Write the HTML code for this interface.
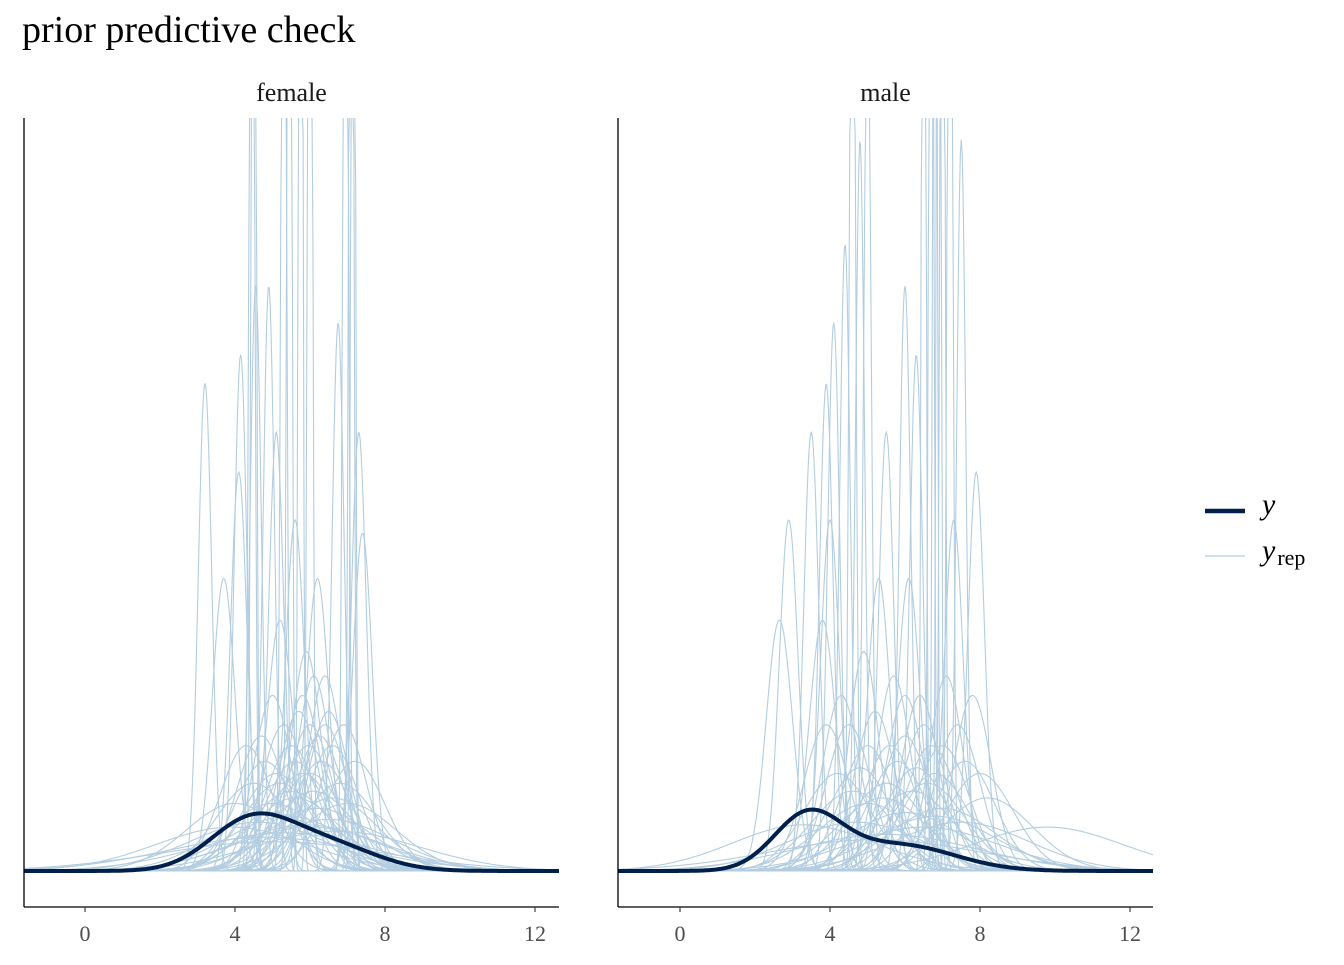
<!DOCTYPE html>
<html><head><meta charset="utf-8"><style>
body{margin:0;background:#fff}
svg text{font-family:"Liberation Serif",serif}
</style></head><body>
<svg id="c" width="1344" height="960">
<text x="22" y="42" font-size="38" fill="#000">prior predictive check</text>
</svg>
<script>
const tickVals=[0,4,8,12];
const panelNames=["female","male"];
const femaleRep=[[3.2,0.18],[3.7,0.30],[4.15,0.17],[4.55,0.15],[4.9,0.15],[6.75,0.16],[7.3,0.2],[7.4,0.26],[4.45,0.07],[4.5,0.06],[5.3,0.07],[5.45,0.06],[5.75,0.05],[6.0,0.06],[6.95,0.07],[7.1,0.06],[7.15,0.05],[4.1,0.22],[5.1,0.2],[5.6,0.25],[5.2,0.35],[6.2,0.3],[5.9,0.4],[6.4,0.45],[5.0,0.5],[6.0,0.6],[5.5,0.7],[6.3,0.8],[4.8,0.8],[5.8,0.9],[6.6,0.7],[5.2,1.0],[6.1,1.1],[4.5,1.0],[5.6,1.2],[6.8,1.0],[5.0,1.3],[6.2,1.4],[5.4,1.6],[4.6,1.8],[6.0,2.0],[5.3,2.3],[4.8,2.6],[6.5,1.7],[7.0,1.3],[5.7,0.55],[6.4,0.6],[4.9,1.5],[5.9,1.9],[6.7,2.2],[6.1,0.45],[5.8,0.5],[6.5,0.55],[5.3,0.6],[4.7,0.65],[6.9,0.6],[5.95,0.7],[6.25,0.65],[5.6,0.8],[4.3,0.7],[6.0,0.9],[5.1,0.9],[7.2,0.8],[5.5,1.1],[6.6,1.2],[4.0,1.3],[3.9,2.0],[5.0,3.0]];
const maleRep=[[2.9,0.25],[2.65,0.35],[3.5,0.2],[3.9,0.18],[4.1,0.16],[4.4,0.14],[4.8,0.12],[5.0,0.1],[6.0,0.15],[6.3,0.17],[7.5,0.12],[7.9,0.22],[4.0,0.25],[4.6,0.08],[6.5,0.05],[6.7,0.06],[6.8,0.05],[6.9,0.05],[7.0,0.06],[7.2,0.07],[5.5,0.2],[5.3,0.3],[6.1,0.3],[7.3,0.25],[3.8,0.35],[4.5,0.6],[5.0,0.7],[5.8,0.8],[6.5,0.6],[7.0,0.7],[4.2,0.9],[5.5,1.0],[6.2,1.1],[6.8,0.9],[7.6,0.8],[5.0,1.3],[6.0,1.5],[7.0,1.4],[4.7,1.8],[6.5,2.0],[5.5,2.4],[8.2,1.2],[9.8,2.0],[5.2,2.8],[7.5,1.8],[6.0,0.5],[4.6,1.1],[8.0,0.9],[6.8,1.6],[3.3,1.9],[4.9,0.4],[5.7,0.45],[6.4,0.5],[7.1,0.45],[4.3,0.5],[5.2,0.55],[6.0,0.65],[6.7,0.7],[7.4,0.6],[4.8,0.85],[5.6,0.7],[6.3,0.85],[3.9,0.6],[7.8,0.5],[5.4,1.2],[6.6,1.0]];
const femaleObs=[[4.4,1.1,0.6],[6.4,1.3,0.4]];
const maleObs=[[3.4,0.9,0.55],[5.8,1.5,0.45]];

const NS="http://www.w3.org/2000/svg";
const svg=document.getElementById('c');
function mk(t,a,p){const e=document.createElementNS(NS,t);for(const k in a)e.setAttribute(k,a[k]);(p||svg).appendChild(e);return e;}
const panels=[{left:24,right:559,x0:85,rep:femaleRep,obs:femaleObs},{left:618,right:1153,x0:680,rep:maleRep,obs:maleObs}];
const topY=118,base=871,axisY=907,pxU=37.5,pxD=220;
function pdf(x,m,s){return Math.exp(-0.5*((x-m)/s)**2)/(s*Math.sqrt(2*Math.PI));}
const defs=mk('defs',{});
panels.forEach((p,i)=>{
  const xs=v=>p.x0+pxU*v, ys=d=>base-pxD*d;
  const cp=mk('clipPath',{id:'cp'+i},defs);mk('rect',{x:p.left,y:topY,width:p.right-p.left,height:axisY-topY},cp);
  const g=mk('g',{'clip-path':'url(#cp'+i+')'});
  
  
  const vmin=(p.left-p.x0)/pxU, vmax=(p.right-p.x0)/pxU;
  function path(f){let d='';for(let k=0;k<=600;k++){const v=vmin+(vmax-vmin)*k/600;const y=Math.max(ys(f(v)),topY-5);d+=(k?'L':'M')+xs(v).toFixed(1)+','+y.toFixed(1);}return d;}
  p.rep.forEach(r=>{const e=mk('path',{d:path(v=>pdf(v,r[0],r[1])),fill:'none',stroke:'#b3cde0',"stroke-width":1.1},g);
    
    });
  const o=mk('path',{d:path(v=>p.obs.reduce((s,c)=>s+c[2]*pdf(v,c[0],c[1]),0)),fill:'none',stroke:'#011f4b',"stroke-width":4},g);
  
  
  const ax=mk('line',{x1:p.left,x2:p.left,y1:topY,y2:axisY,stroke:'#000',"stroke-width":1.3});
  
  
  const bx=mk('line',{x1:p.left,x2:p.right,y1:axisY,y2:axisY,stroke:'#000',"stroke-width":1.3});
  
  
  tickVals.forEach(t=>{mk('line',{x1:xs(t),x2:xs(t),y1:axisY,y2:axisY+5,stroke:'#333',"stroke-width":1.1});
    const tx=mk('text',{x:xs(t),y:941,'text-anchor':'middle','font-size':22,fill:'#4d4d4d'});tx.textContent=t;
    
    });
  const st=mk('text',{x:(p.left+p.right)/2,y:101,'text-anchor':'middle','font-size':26,fill:'#1a1a1a'});st.textContent=panelNames[i];
  
  
});
const lg=mk('g',{});


mk('line',{x1:1205,x2:1245,y1:511,y2:511,stroke:'#011f4b',"stroke-width":4.5},lg);
mk('line',{x1:1205,x2:1245,y1:556,y2:556,stroke:'#b3cde0',"stroke-width":1.2},lg);
const t1=mk('text',{x:1262,y:514,'font-size':30,'font-style':'italic'},lg);t1.textContent='y';


const t2=mk('text',{x:1262,y:560,'font-size':30,'font-style':'italic'},lg);t2.textContent='y';


const t3=mk('tspan',{'font-size':22,'font-style':'normal',dx:2,dy:5},t2);t3.textContent='rep';
</script>
</body></html>
